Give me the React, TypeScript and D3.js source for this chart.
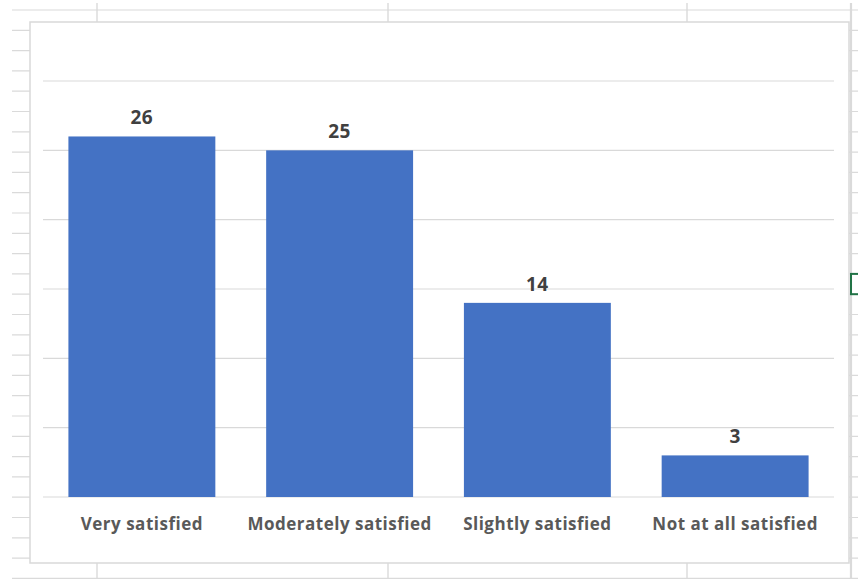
import React from "react";
import * as d3 from "d3";

// Survey responses: satisfaction level and number of respondents
const categories: string[] = [
  "Very satisfied",
  "Moderately satisfied",
  "Slightly satisfied",
  "Not at all satisfied",
];
const counts: number[] = [26, 25, 14, 3];
const yTicks: number[] = [0, 5, 10, 15, 20, 25, 30];

const W = 858;
const H = 579;

// worksheet cell grid behind the chart object
const rowTop = 10;
const rowStep = 20.3;
const rowCount = 29;
const columnXs: number[] = [97, 388, 687];

const frame = { x: 30, y: 22, w: 819, h: 541 };
const plot = { left: 43, right: 834, top: 81, bottom: 497 };

const FONT = "'Open Sans', Lato, sans-serif";
const BAR = "#4472C4";
const GRID = "#d9d9d9";
const SHEET = "#dadada";

export default function App() {
  const x = d3
    .scaleBand<string>()
    .domain(categories)
    .range([plot.left, plot.right])
    .paddingInner(0.257)
    .paddingOuter(0.1285);

  const y = d3
    .scaleLinear()
    .domain([0, d3.max(yTicks) as number])
    .range([plot.bottom, plot.top]);

  const rows = d3.range(rowCount).map((i) => rowTop + i * rowStep);

  return (
    <svg
      width={W}
      height={H}
      viewBox={`0 0 ${W} ${H}`}
      style={{ position: "absolute", left: 0, top: 0, background: "#fff" }}
    >
      {/* sheet rows and columns */}
      {rows.map((ry, i) => (
        <line key={`r${i}`} x1={12} x2={W} y1={ry} y2={ry} stroke={SHEET} strokeWidth={1.2} />
      ))}
      {columnXs.map((cx, i) => (
        <line key={`c${i}`} x1={cx} x2={cx} y1={3} y2={H} stroke={SHEET} strokeWidth={1.4} />
      ))}
      <line x1={851} x2={851} y1={3} y2={H} stroke={SHEET} strokeWidth={2.2} />
      {/* active cell marker */}
      <rect
        x={851}
        y={rowTop + 13 * rowStep}
        width={20}
        height={rowStep}
        fill="none"
        stroke="#217346"
        strokeWidth={2}
      />

      {/* chart object */}
      <rect
        x={frame.x}
        y={frame.y}
        width={frame.w}
        height={frame.h}
        fill="#fff"
        stroke={GRID}
        strokeWidth={1.5}
      />

      {/* horizontal gridlines */}
      {yTicks.map((t) => (
        <line
          key={`g${t}`}
          x1={plot.left}
          x2={plot.right}
          y1={y(t)}
          y2={y(t)}
          stroke={GRID}
          strokeWidth={1.2}
        />
      ))}

      {/* bars */}
      {categories.map((c, i) => (
        <rect
          key={`b${c}`}
          x={x(c)}
          y={y(counts[i])}
          width={x.bandwidth()}
          height={y(0) - y(counts[i])}
          fill={BAR}
        />
      ))}

      {/* value labels */}
      {categories.map((c, i) => (
        <text
          key={`v${c}`}
          x={(x(c) as number) + x.bandwidth() / 2}
          y={y(counts[i]) - 12}
          textAnchor="middle"
          fontFamily={FONT}
          fontWeight={700}
          fontSize={19}
          letterSpacing={0.6}
          fill="#404040"
        >
          {counts[i]}
        </text>
      ))}

      {/* category labels */}
      {categories.map((c) => (
        <text
          key={`l${c}`}
          x={(x(c) as number) + x.bandwidth() / 2}
          y={plot.bottom + 33}
          textAnchor="middle"
          fontFamily={FONT}
          fontWeight={700}
          fontSize={17}
          letterSpacing={0.5}
          fill="#595959"
        >
          {c}
        </text>
      ))}
    </svg>
  );
}
